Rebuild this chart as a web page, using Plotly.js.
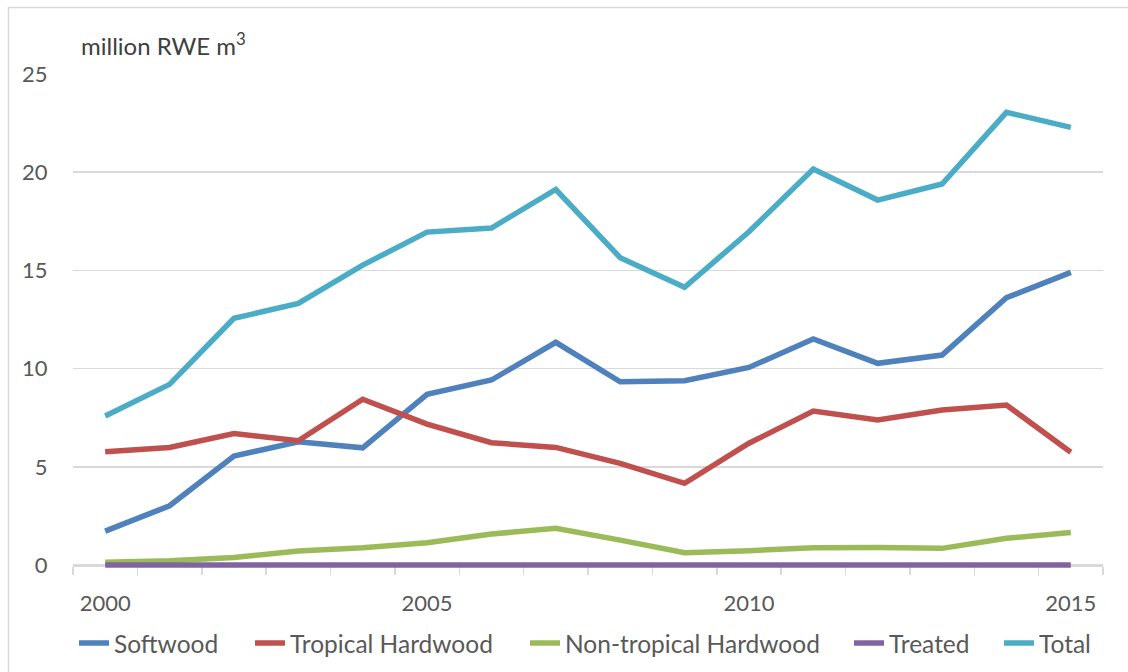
<!DOCTYPE html>
<html>
<head>
<meta charset="utf-8">
<script src="https://cdn.plot.ly/plotly-3.0.1.min.js"></script>
<style>html,body{margin:0;padding:0;background:#fff;}#chart{width:1128px;height:672px;}</style>
</head>
<body>
<div id="chart"></div>
<script>
const years = [2000,2001,2002,2003,2004,2005,2006,2007,2008,2009,2010,2011,2012,2013,2014,2015];
const softwood = [1.73,3.02,5.55,6.28,5.97,8.69,9.42,11.34,9.33,9.38,10.06,11.51,10.27,10.69,13.61,14.90];
const tropicalHardwood = [5.77,5.99,6.70,6.33,8.44,7.18,6.23,5.99,5.18,4.16,6.20,7.84,7.38,7.89,8.15,5.74];
const nonTropicalHardwood = [0.14,0.22,0.39,0.71,0.88,1.14,1.58,1.87,1.27,0.63,0.73,0.88,0.90,0.85,1.36,1.66];
const treated = [0,0,0,0,0,0,0,0,0,0,0,0,0,0,0,0];
const total = [7.59,9.20,12.56,13.32,15.27,16.95,17.16,19.12,15.65,14.14,16.97,20.16,18.58,19.40,23.05,22.28];
const seriesNames = ['Softwood','Tropical Hardwood','Non-tropical Hardwood','Treated','Total'];
const seriesColors = ['#4F81BD','#C0504D','#9BBB59','#8064A2','#4BACC6'];
const xTickLabels = ['2000','2005','2010','2015'];
const yTickLabels = ['0','5','10','15','20','25'];

const W = 1128, H = 672;
const L = 73, R = 25, T = 74;
const yMin = -0.15, yMax = 25;
const zeroPx = 565, topPx = 74;
const pxPerUnit = (zeroPx - topPx) / yMax;
const bottomPx = zeroPx - yMin * pxPerUnit;
const B = H - bottomPx;
const pw = W - L - R, ph = bottomPx - T;
const px = v => (v - L) / pw;
const py = v => (bottomPx - v) / ph;

const font = "Lato, 'Open Sans', sans-serif";
const legendTextStarts = [116, 292, 567, 891, 1041];
const legendNames = ['legend','legend2','legend3','legend4','legend5'];

const seriesValues = [softwood, tropicalHardwood, nonTropicalHardwood, treated, total];
const traces = seriesValues.map((vals, i) => ({
  type: 'scatter', mode: 'lines', x: years, y: vals, name: seriesNames[i],
  legend: legendNames[i],
  line: {color: seriesColors[i], width: 5.5}, hoverinfo: 'x+y+name'
}));

const layout = {
  width: W, height: H,
  margin: {l: L, r: R, t: T, b: B, pad: 0, autoexpand: false},
  paper_bgcolor: '#ffffff', plot_bgcolor: '#ffffff',
  font: {family: font, color: '#595959', size: 22},
  showlegend: true,
  xaxis: {
    range: [1999.5, 2015.5], tickmode: 'array',
    tickvals: xTickLabels.map(Number), ticktext: xTickLabels,
    anchor: 'free', position: (0 - yMin) / (yMax - yMin), layer: 'below traces',
    ticks: 'outside', ticklen: 18, tickcolor: 'rgba(0,0,0,0)',
    showgrid: false, zeroline: false, showline: true, linecolor: '#d9d9d9', linewidth: 1.5,
    tickfont: {family: font, size: 22, color: '#595959'},
    minor: {tickmode: 'array', tickvals: years.map(y => y - 0.5).concat([2015.5]),
            ticks: 'outside', ticklen: 8, tickcolor: '#d9d9d9', tickwidth: 1.5, showgrid: false},
    fixedrange: true
  },
  yaxis: {
    range: [yMin, yMax], tickmode: 'array', tickvals: yTickLabels.map(Number), ticktext: yTickLabels,
    ticks: 'outside', ticklen: 20, tickcolor: 'rgba(0,0,0,0)', layer: 'below traces',
    showgrid: true, gridcolor: '#d9d9d9', gridwidth: 1.5, zeroline: false, showline: false,
    tickfont: {family: font, size: 22, color: '#595959'}, fixedrange: true
  },
  annotations: [{
    text: 'million RWE m<sup>3</sup>', xref: 'paper', yref: 'paper',
    x: px(79), y: py(44), xanchor: 'left', yanchor: 'middle', showarrow: false,
    font: {family: font, size: 24, color: '#404040'}
  }],
  shapes: [{
    type: 'rect', xref: 'paper', yref: 'paper', layer: 'below',
    x0: px(8.5), x1: px(1200), y0: py(720), y1: py(7.5),
    line: {color: '#d9d9d9', width: 1.5}, fillcolor: 'rgba(0,0,0,0)'
  }]
};

legendNames.forEach((ln, i) => {
  layout[ln] = {
    orientation: 'h', x: px(legendTextStarts[i] - 42), xanchor: 'left',
    y: py(643), yanchor: 'middle', bgcolor: 'rgba(0,0,0,0)', borderwidth: 0,
    font: {family: font, size: 24.5, color: '#595959'}
  };
});

Plotly.newPlot('chart', traces, layout, {displayModeBar: false, staticPlot: true});
</script>
</body>
</html>
